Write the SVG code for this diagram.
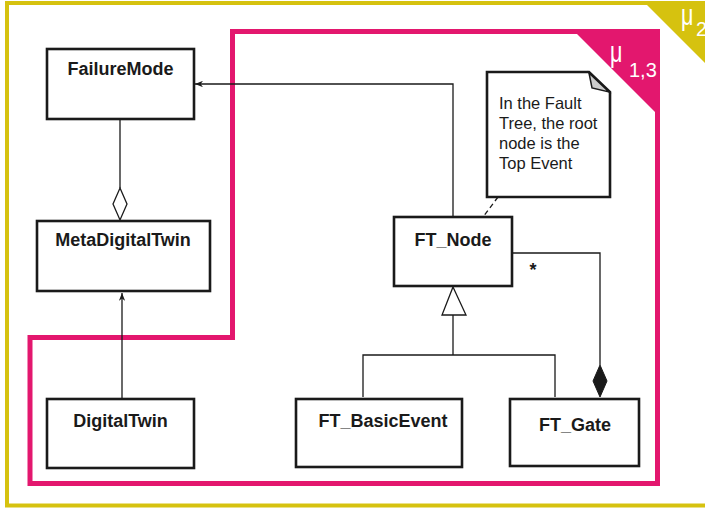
<svg xmlns="http://www.w3.org/2000/svg" width="705" height="508" viewBox="0 0 705 508">
<style>
.node rect{fill:#fff;stroke:#1a1a1a;stroke-width:2.6}
.lbl{font-family:"Liberation Sans",Arial,sans-serif;font-weight:bold;font-size:18px;fill:#1a1a1a;text-anchor:middle}
.conn{fill:none;stroke:#1a1a1a;stroke-width:1.3}
.note{font-family:"Liberation Sans",Arial,sans-serif;font-size:16.5px;fill:#1a1a1a}
.mu{font-family:"Liberation Sans",Arial,sans-serif;fill:#fff}
</style>
<defs>
<marker id="arr" viewBox="0 0 10 8" refX="10" refY="4" markerWidth="8" markerHeight="6.4" markerUnits="userSpaceOnUse" orient="auto">
<path d="M0,0 L10,4 L0,8 L3,4 Z" fill="#1a1a1a"/>
</marker>
</defs>
<rect width="705" height="508" fill="#fff"/>
<!-- yellow frame -->
<g id="frame-mu2">
<rect x="7" y="3" width="760" height="502.5" fill="none" stroke="#d6c20f" stroke-width="4"/>
<polygon points="643,1 790,1 790,148" fill="#d6c20f"/>
<text class="mu" transform="translate(681,25) scale(0.72,1)" font-size="30">μ</text>
<text class="mu" x="696" y="36" font-size="20">2</text>
</g>
<!-- pink frame -->
<g id="frame-mu13">
<path d="M232.5,31.5 H657.5 V483.5 H30 V337.5 H232.5 Z" fill="none" stroke="#e3176e" stroke-width="5"/>
<polygon points="572,29 660,29 660,117" fill="#e3176e"/>
<text class="mu" transform="translate(610,62) scale(0.72,1)" font-size="30">μ</text>
<text class="mu" x="629" y="77" font-size="20">1,3</text>
</g>
<!-- connectors -->
<g id="connectors">
<path class="conn" d="M453,217 V84 H195" marker-end="url(#arr)"/>
<path class="conn" d="M120,119 V188"/>
<polygon points="120,188 127,204 120,220 113,204" fill="#fff" stroke="#1a1a1a" stroke-width="1.3"/>
<path class="conn" d="M122,399 V293" marker-end="url(#arr)"/>
<path class="conn" d="M498,197 L483,217" stroke-dasharray="5,3.5"/>
<path class="conn" d="M453,315 V355 M363,397 V355 H555 V397"/>
<polygon points="453,287 466,315 442,315" fill="#fff" stroke="#1a1a1a" stroke-width="1.3"/>
<path class="conn" d="M512,253 H600 V365" stroke-width="2"/>
<polygon points="600,365 607,381 600,397 593,381" fill="#1a1a1a" stroke="#1a1a1a" stroke-width="1"/>
<text class="lbl" x="533" y="276">*</text>
</g>
<g id="FailureMode" class="node">
<rect x="47" y="49" width="147" height="70"/>
<text class="lbl" x="120.5" y="75">FailureMode</text>
</g>
<g id="MetaDigitalTwin" class="node">
<rect x="37" y="221" width="173" height="70"/>
<text class="lbl" x="123" y="246">MetaDigitalTwin</text>
</g>
<g id="DigitalTwin" class="node">
<rect x="47" y="399" width="147" height="69"/>
<text class="lbl" x="120.5" y="427">DigitalTwin</text>
</g>
<g id="FT_Node" class="node">
<rect x="394" y="217" width="118" height="69"/>
<text class="lbl" x="453" y="246">FT_Node</text>
</g>
<g id="FT_BasicEvent" class="node">
<rect x="296" y="399" width="166" height="68"/>
<text class="lbl" x="383" y="427">FT_BasicEvent</text>
</g>
<g id="FT_Gate" class="node">
<rect x="510" y="399" width="129" height="67"/>
<text class="lbl" x="575" y="431">FT_Gate</text>
</g>
<g id="note">
<path d="M487,72 H589 L610,92 V197 H487 Z" fill="#fff" stroke="#1a1a1a" stroke-width="2.6"/>
<polygon points="589,73 592,88 609,92" fill="#ccc" stroke="#1a1a1a" stroke-width="1.5"/>
<text class="note" x="499" y="109">In the Fault</text>
<text class="note" x="499" y="129">Tree, the root</text>
<text class="note" x="499" y="149">node is the</text>
<text class="note" x="499" y="169">Top Event</text>
</g>
</svg>
